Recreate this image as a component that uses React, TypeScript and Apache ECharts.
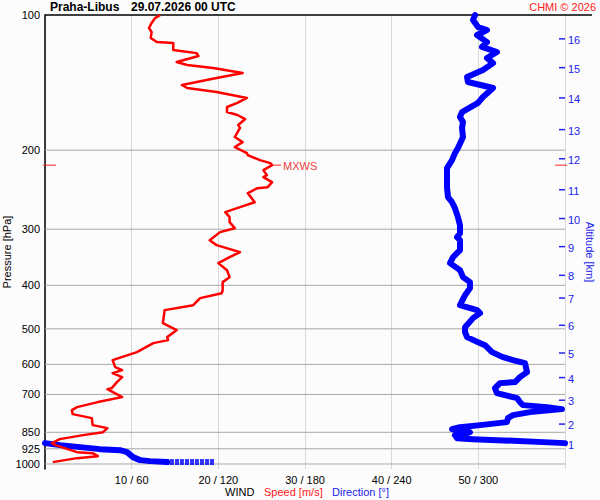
import React, { useEffect, useRef } from "react";
import * as echarts from "echarts";

const FONT = '"Liberation Sans", Arial, sans-serif';

const pressureLevels = [100, 200, 300, 400, 500, 600, 700, 850, 925, 1000];
const speedTickValues = [10, 20, 30, 40, 50];
const altitudeKm = [1, 2, 3, 4, 5, 6, 7, 8, 9, 10, 11, 12, 13, 14, 15, 16];
const altitudePressure = [903, 815, 721, 642, 566, 491, 427, 380, 328, 284, 245, 209, 180, 153, 131, 113];

const speedPressure = [990.5, 970.4, 960.5, 945.8, 941.0, 907.8, 898.5, 880.3, 862.4, 849.3, 832.0, 819.3, 790.4, 774.3, 758.6, 747.0, 728.0, 709.6, 681.1, 677.6, 657.1, 640.5, 627.5, 617.9, 608.5, 587.0, 563.4, 538.0, 529.8, 521.7, 503.3, 485.6, 454.3, 442.8, 427.2, 416.4, 410.0, 393.5, 383.6, 370.1, 357.0, 346.2, 337.4, 325.5, 317.3, 304.5, 298.4, 289.3, 282.0, 274.9, 267.9, 261.2, 249.3, 243.0, 241.8, 235.7, 229.7, 227.4, 221.6, 216.0, 213.8, 210.5, 205.2, 203.1, 196.8, 191.9, 187.0, 178.5, 175.8, 170.5, 167.0, 164.5, 160.3, 157.0, 153.0, 148.4, 145.4, 143.2, 138.1, 134.7, 131.2, 129.2, 127.3, 123.4, 121.6, 119.7, 115.5, 114.9, 112.5, 109.1, 106.9, 104.2, 101.6, 100];
const speedValues = [0.9, 3.7, 6.1, 5.5, 3.7, 1.2, 0.8, 1.7, 4.4, 6.7, 7.2, 5.5, 5.4, 3.2, 3.1, 3.7, 6.1, 8.9, 7.2, 7.7, 8.3, 8.9, 7.8, 8.9, 8.1, 7.8, 10.6, 12.5, 14.2, 14.1, 15.2, 13.6, 13.8, 17.1, 17.9, 20.4, 20.5, 20.5, 21.3, 21.0, 20.0, 21.3, 22.5, 19.8, 19.0, 20.2, 21.9, 21.3, 21.3, 20.8, 22.5, 24.2, 23.4, 24.5, 25.7, 26.2, 25.2, 25.6, 25.2, 26.2, 26.0, 24.8, 23.4, 23.3, 21.9, 22.8, 21.9, 22.5, 22.3, 23.1, 22.2, 21.0, 21.0, 22.2, 23.3, 19.8, 16.4, 15.8, 19.8, 22.8, 19.4, 16.4, 15.2, 17.7, 17.5, 14.8, 14.8, 12.9, 12.2, 12.3, 12.0, 12.3, 12.7, 13.3];

const surfaceDotPressure = [990, 990, 990, 990, 990, 990, 990, 990, 990, 990];
const surfaceDotDirection = [115.6, 112.2, 108.7, 105.2, 101.8, 98.3, 94.8, 91.4, 87.9, 84.5];

const dirLowPressure = [990, 985.4, 980.4, 965.4, 941.0, 931.4, 926.6, 917.1, 907.8, 898.5];
const dirLowValues = [84.5, 72.7, 65.8, 60.9, 56.8, 51.9, 38.1, 24.2, 10.4, 0];

const dirPressure = [898.5, 893.9, 884.8, 880.3, 875.8, 862.4, 853.6, 849.3, 840.6, 836.3, 827.8, 819.3, 806.8, 790.4, 778.3, 766.4, 754.7, 747.0, 739.4, 728.0, 713.3, 695.2, 677.6, 660.5, 657.1, 640.5, 624.3, 596.1, 587.0, 578.1, 563.4, 543.6, 535.3, 521.7, 508.5, 495.7, 473.3, 461.3, 454.3, 442.8, 420.7, 405.8, 393.5, 383.6, 370.1, 357.0, 346.2, 334.0, 317.3, 312.5, 306.1, 293.8, 282.0, 269.3, 261.2, 254.5, 241.8, 229.7, 219.3, 210.5, 203.1, 197.8, 187.0, 178.5, 173.2, 168.7, 164.5, 157.0, 152.3, 145.4, 141.0, 137.4, 132.6, 128.0, 124.7, 120.9, 117.8, 114.9, 110.8, 108.0, 106.4, 102.6, 100];
const dirValues = [360, 344.8, 312.9, 296.3, 285.2, 283.8, 292.2, 294.2, 285.2, 281.8, 287.3, 301.2, 319.8, 320.5, 324, 335.8, 357.9, 347.5, 330.9, 328.8, 326.8, 312.9, 311.5, 315, 325.4, 328.8, 333.7, 332.3, 324, 317, 309.5, 304.6, 299.8, 292.2, 290.8, 290.8, 296.3, 301.2, 299.1, 287.3, 290.8, 294.2, 294.2, 289.4, 287.3, 280.4, 282.5, 287.3, 287.3, 285.2, 287.3, 287.3, 285.9, 283.8, 281.8, 279, 278.3, 278.3, 278.3, 281.8, 283.8, 285.9, 289.4, 288.7, 289.4, 287.3, 288.7, 299.8, 303.2, 310.2, 292.8, 292.2, 303.2, 310.2, 306.0, 312.9, 302.5, 306.0, 299.1, 306.0, 299.8, 296.3, 297.7];

const maxWindSpeed = [26.2];
const maxWindPressure = [216];

const SPEED_MAX = 60;
const DIR_PER_SPEED = 6;

export default function App() {
  const ref = useRef<HTMLDivElement>(null);

  useEffect(() => {
    document.body.style.margin = "0";
    const chart = echarts.init(ref.current!, undefined, { renderer: "svg" });

    const gridSeries = {
      type: "custom",
      silent: true,
      z: 1,
      clip: false,
      data: pressureLevels.map((p) => [0, p]),
      renderItem: (_params: any, api: any) => {
        const p = api.value(1);
        const a = api.coord([0, p]);
        const b = api.coord([SPEED_MAX, p]);
        const top = p === 100;
        return {
          type: "group",
          children: [
            {
              type: "line",
              shape: { x1: a[0], y1: a[1], x2: top ? b[0] + 27 : b[0], y2: a[1] },
              style: { stroke: top ? "#000" : "#a8a8a8", lineWidth: top ? 1.5 : 1 },
            },
            {
              type: "text",
              style: {
                text: String(p),
                x: a[0] - 5,
                y: a[1],
                align: "right",
                verticalAlign: "middle",
                fill: "#000",
                font: `11px ${FONT}`,
              },
            },
          ],
        };
      },
    };

    const altitudeSeries = {
      type: "custom",
      silent: true,
      z: 2,
      clip: false,
      data: altitudeKm.map((k, i) => [SPEED_MAX, altitudePressure[i], k]),
      renderItem: (_params: any, api: any) => {
        const pt = api.coord([SPEED_MAX, api.value(1)]);
        return {
          type: "group",
          children: [
            {
              type: "line",
              shape: { x1: pt[0] - 6, y1: pt[1], x2: pt[0], y2: pt[1] },
              style: { stroke: "#2222ee", lineWidth: 1.5 },
            },
            {
              type: "text",
              style: {
                text: String(api.value(2)),
                x: pt[0] + 3,
                y: pt[1] + 1,
                align: "left",
                verticalAlign: "middle",
                fill: "#2222ee",
                font: `11px ${FONT}`,
              },
            },
          ],
        };
      },
    };

    const mxwsSeries = {
      type: "custom",
      silent: true,
      z: 6,
      clip: false,
      data: maxWindSpeed.map((s, i) => [s, maxWindPressure[i]]),
      renderItem: (_params: any, api: any) => {
        const p = api.value(1);
        const pt = api.coord([api.value(0), p]);
        const l = api.coord([0, p]);
        const r = api.coord([SPEED_MAX, p]);
        const red = "#ff2020";
        return {
          type: "group",
          children: [
            { type: "line", shape: { x1: pt[0], y1: pt[1], x2: pt[0] + 9, y2: pt[1] }, style: { stroke: red, lineWidth: 1 } },
            { type: "line", shape: { x1: l[0] - 2, y1: pt[1], x2: l[0] + 11, y2: pt[1] }, style: { stroke: red, lineWidth: 1 } },
            { type: "line", shape: { x1: r[0] - 10, y1: pt[1], x2: r[0] + 2, y2: pt[1] }, style: { stroke: red, lineWidth: 1 } },
            {
              type: "text",
              style: {
                text: "MXWS",
                x: pt[0] + 11,
                y: pt[1] + 1,
                align: "left",
                verticalAlign: "middle",
                fill: "#f04040",
                font: `11px ${FONT}`,
              },
            },
          ],
        };
      },
    };

    const option: any = {
      animation: false,
      backgroundColor: "#fcfcfc",
      grid: { left: 45, right: 35, top: 15, bottom: 31 },
      xAxis: {
        type: "value",
        min: 0,
        max: SPEED_MAX,
        interval: 10,
        axisLine: { show: false },
        axisTick: { show: false },
        splitLine: { show: true, lineStyle: { color: "#d8d8d8", width: 1 } },
        axisLabel: {
          margin: 5,
          color: "#000",
          fontSize: 11,
          fontFamily: FONT,
          formatter: (v: number) =>
            speedTickValues.indexOf(v) >= 0 ? `${v} / ${v * DIR_PER_SPEED}` : "",
        },
      },
      yAxis: {
        type: "log",
        logBase: 10,
        min: 100,
        max: 1026,
        inverse: true,
        axisLine: { show: true, lineStyle: { color: "#000", width: 1.5 } },
        axisTick: { show: false },
        axisLabel: { show: false },
        splitLine: { show: false },
      },
      series: [
        gridSeries,
        altitudeSeries,
        {
          type: "line",
          name: "dirLow",
          z: 3,
          clip: false,
          showSymbol: false,
          silent: true,
          data: dirLowValues.map((d, i) => [d / DIR_PER_SPEED, dirLowPressure[i]]),
          lineStyle: { color: "#0000ff", width: 6, cap: "round", join: "round" },
        },
        {
          type: "line",
          name: "dir",
          z: 3,
          clip: false,
          showSymbol: false,
          silent: true,
          data: dirValues.map((d, i) => [d / DIR_PER_SPEED, dirPressure[i]]),
          lineStyle: { color: "#0000ff", width: 6, cap: "round", join: "round" },
        },
        {
          type: "scatter",
          name: "dirSurface",
          z: 3,
          silent: true,
          symbol: "rect",
          symbolSize: [4, 6],
          itemStyle: { color: "#0000ff" },
          data: surfaceDotDirection.map((d, i) => [d / DIR_PER_SPEED, surfaceDotPressure[i]]),
        },
        {
          type: "line",
          name: "speed",
          z: 5,
          showSymbol: false,
          silent: true,
          data: speedValues.map((s, i) => [s, speedPressure[i]]),
          lineStyle: { color: "#ff0000", width: 2.5, join: "round" },
        },
        mxwsSeries,
      ],
      graphic: [
        {
          type: "text",
          left: 50,
          top: 1,
          style: { text: "Praha-Libus", fill: "#000", font: `bold 12px ${FONT}` },
        },
        {
          type: "text",
          left: 131,
          top: 1,
          style: { text: "29.07.2026 00 UTC", fill: "#000", font: `bold 12px ${FONT}` },
        },
        {
          type: "text",
          right: 4,
          top: 1,
          style: { text: "CHMI © 2026", fill: "#ff2020", font: `11px ${FONT}` },
        },
        {
          type: "text",
          left: 225,
          top: 486,
          style: { text: "WIND", fill: "#000", font: `11px ${FONT}` },
        },
        {
          type: "text",
          left: 264,
          top: 486,
          style: { text: "Speed [m/s]", fill: "#ff2020", font: `11px ${FONT}` },
        },
        {
          type: "text",
          left: 332,
          top: 486,
          style: { text: "Direction [°]", fill: "#2222ee", font: `11px ${FONT}` },
        },
        {
          type: "text",
          x: 7,
          y: 252,
          rotation: Math.PI / 2,
          style: {
            text: "Pressure [hPa]",
            fill: "#000",
            font: `11px ${FONT}`,
            align: "center",
            verticalAlign: "middle",
          },
        },
        {
          type: "text",
          x: 590,
          y: 252,
          rotation: -Math.PI / 2,
          style: {
            text: "Altitude [km]",
            fill: "#2222ee",
            font: `11px ${FONT}`,
            align: "center",
            verticalAlign: "middle",
          },
        },
      ],
    };

    chart.setOption(option);
    return () => chart.dispose();
  }, []);

  return (
    <div
      ref={ref}
      style={{ position: "absolute", left: 0, top: 0, width: 600, height: 500 }}
    />
  );
}
